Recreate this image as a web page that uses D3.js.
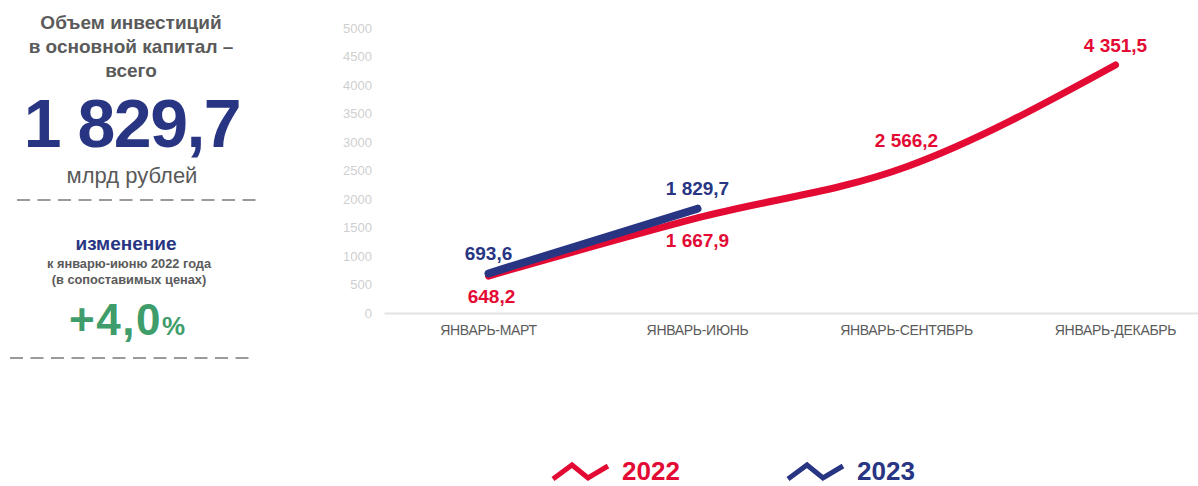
<!DOCTYPE html>
<html>
<head>
<meta charset="utf-8">
<script src="https://cdn.jsdelivr.net/npm/d3@7"></script>
<style>
  html, body { margin: 0; padding: 0; background: #fff; }
  svg { display: block; font-family: "Liberation Sans", Arial, sans-serif; }
</style>
</head>
<body>
<svg id="chart" width="1198" height="486"></svg>
<script>
// ---- data ----
const categories = ["ЯНВАРЬ-МАРТ", "ЯНВАРЬ-ИЮНЬ", "ЯНВАРЬ-СЕНТЯБРЬ", "ЯНВАРЬ-ДЕКАБРЬ"];
const values2022 = [648.2, 1667.9, 2566.2, 4351.5];
const values2023 = [693.6, 1829.7];
const yTicks = [0, 500, 1000, 1500, 2000, 2500, 3000, 3500, 4000, 4500, 5000];
const seriesNames = ["2022", "2023"];
const headline = ["Объем инвестиций", "в основной капитал –", "всего"];
const headlineValue = 1829.7;
const headlineUnit = "млрд рублей";
const changeTitle = "изменение";
const changeNotes = ["к январю-июню 2022 года", "(в сопоставимых ценах)"];
const changeValue = "+4,0";

// ---- styles ----
const RED = "#e30b34";
const BLUE = "#283583";
const GREEN = "#3f9d6b";
const GRAY = "#5a5a5a";

const svg = d3.select("#chart");
const ru = d3.formatLocale({ decimal: ",", thousands: "\u00a0", grouping: [3], currency: ["", ""] });
const fmt = ru.format(",.1f");

// ---- scales ----
const x = d3.scaleBand().domain(categories).range([384, 1220]).padding(0);
const y = d3.scaleLinear().domain([0, 5000]).range([313, 28]);
const cx = c => x(c) + x.bandwidth() / 2;

// y axis
const yAxis = svg.append("g").attr("transform", "translate(384,0)")
  .call(d3.axisLeft(y).tickValues(yTicks).tickSize(0).tickPadding(12).tickFormat(d3.format("d")));
yAxis.select(".domain").remove();
yAxis.selectAll("text").attr("fill", "#cfcfcf").style("font-size", "13px").style("font-family", "'Liberation Sans', Arial, sans-serif");

// x axis
const xAxis = svg.append("g").attr("transform", "translate(0,313)")
  .call(d3.axisBottom(x).tickSize(0).tickPadding(12));
xAxis.select(".domain").attr("stroke", "#e3e3e3").attr("stroke-width", 2);
xAxis.selectAll("text").attr("fill", GRAY).style("font-size", "14px")
  .style("letter-spacing", "-0.3px").style("font-family", "'Liberation Sans', Arial, sans-serif");

// lines
const d2022 = categories.map((c, i) => ({ c, v: values2022[i] }));
const d2023 = values2023.map((v, i) => ({ c: categories[i], v }));

const curved = d3.line().x(d => cx(d.c)).y(d => y(d.v)).curve(d3.curveMonotoneX);
const straight = d3.line().x(d => cx(d.c)).y(d => y(d.v));

svg.append("path").datum(d2022).attr("d", curved)
  .attr("fill", "none").attr("stroke", RED).attr("stroke-width", 7)
  .attr("stroke-linecap", "round").attr("stroke-linejoin", "round");
svg.append("path").datum(d2023).attr("d", straight)
  .attr("fill", "none").attr("stroke", BLUE).attr("stroke-width", 8)
  .attr("stroke-linecap", "round").attr("stroke-linejoin", "round");

// data labels
const off2022 = [27, 29, -20, -13];
const dx2022 = [3, 0, 0, 0];
svg.append("g").selectAll("text").data(d2022).join("text")
  .attr("x", (d, i) => cx(d.c) + dx2022[i])
  .attr("y", (d, i) => y(d.v) + off2022[i])
  .attr("text-anchor", "middle").attr("fill", RED)
  .style("font-size", "19px").style("font-weight", "bold")
  .text(d => fmt(d.v));

const off2023 = [-13, -14];
svg.append("g").selectAll("text").data(d2023).join("text")
  .attr("x", d => cx(d.c))
  .attr("y", (d, i) => y(d.v) + off2023[i])
  .attr("text-anchor", "middle").attr("fill", BLUE)
  .style("font-size", "19px").style("font-weight", "bold")
  .text(d => fmt(d.v));

// ---- left panel ----
const left = svg.append("g").attr("text-anchor", "middle");
left.selectAll("text.h").data(headline).join("text").attr("class", "h")
  .attr("x", 131).attr("y", (d, i) => 29 + i * 24)
  .attr("fill", GRAY).style("font-size", "19px").style("font-weight", "bold").text(d => d);

left.append("text").attr("x", 132).attr("y", 147).attr("fill", BLUE)
  .style("font-size", "68px").style("font-weight", "bold").style("letter-spacing", "-1.5px")
  .text(fmt(headlineValue));

left.append("text").attr("x", 132).attr("y", 183).attr("fill", GRAY)
  .style("font-size", "22px").text(headlineUnit);

left.append("line").attr("x1", 17).attr("x2", 262).attr("y1", 200).attr("y2", 200)
  .attr("stroke", "#7a7a7a").attr("stroke-width", 1.6).attr("stroke-dasharray", "13,7.5");

left.append("text").attr("x", 126).attr("y", 250).attr("fill", BLUE)
  .style("font-size", "19px").style("font-weight", "bold").text(changeTitle);

left.selectAll("text.n").data(changeNotes).join("text").attr("class", "n")
  .attr("x", 129).attr("y", (d, i) => 268 + i * 16)
  .attr("fill", GRAY).style("font-size", "12.8px").style("font-weight", "bold").text(d => d);

const pct = left.append("text").attr("x", 127).attr("y", 335).attr("fill", GREEN)
  .style("font-weight", "bold");
pct.append("tspan").style("font-size", "44px").style("letter-spacing", "1.5px").text(changeValue);
pct.append("tspan").style("font-size", "26px").text("%");

left.append("line").attr("x1", 10).attr("x2", 254).attr("y1", 358).attr("y2", 358)
  .attr("stroke", "#7a7a7a").attr("stroke-width", 1.6).attr("stroke-dasharray", "13,7.5");

// ---- legend ----
const zig = [[0, 15], [19, 1], [35, 14], [55, 2]];
const legendItems = [
  { name: seriesNames[0], color: RED, x: 553 },
  { name: seriesNames[1], color: BLUE, x: 788 }
];
const lg = svg.append("g").selectAll("g").data(legendItems).join("g")
  .attr("transform", d => `translate(${d.x},464)`);
lg.append("path").attr("d", d3.line()(zig)).attr("fill", "none")
  .attr("stroke", d => d.color).attr("stroke-width", 5).attr("stroke-linejoin", "miter");
lg.append("text").attr("x", 69).attr("y", 16).attr("fill", d => d.color)
  .style("font-size", "26px").style("font-weight", "bold").text(d => d.name);
</script>
</body>
</html>
